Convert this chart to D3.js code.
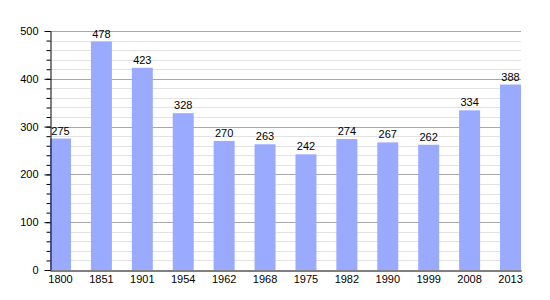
<!DOCTYPE html>
<html>
<head>
<meta charset="utf-8">
<script src="https://cdn.jsdelivr.net/npm/d3@7"></script>
<style>
body { margin: 0; background: #fff; }
text { font-family: "Liberation Sans", Arial, sans-serif; font-size: 11px; fill: #000; }
</style>
</head>
<body>
<script>
var years = ['1800','1851','1901','1954','1962','1968','1975','1982','1990','1999','2008','2013'];
var population = [275, 478, 423, 328, 270, 263, 242, 274, 267, 262, 334, 388];
var yTicks = [0, 100, 200, 300, 400, 500];

var svg = d3.select('body').append('svg')
  .attr('width', 550).attr('height', 300);

var mLeft = 50, mRight = 521, mTop = 31, mBottom = 270;

var x = d3.scaleBand().domain(years).range([mLeft, mRight])
  .paddingInner(0.487).paddingOuter(0);
var y = d3.scaleLinear().domain([0, 500]).range([mBottom, mTop]);

// minor grid
svg.append('g').selectAll('line')
  .data(d3.range(0, 501, 20).filter(function(v){ return v % 100 != 0; }))
  .enter().append('line')
  .attr('x1', mLeft).attr('x2', mRight)
  .attr('y1', function(d){ return Math.round(y(d)) + 0.5; })
  .attr('y2', function(d){ return Math.round(y(d)) + 0.5; })
  .attr('stroke', '#e2e2e2');

// major grid
svg.append('g').selectAll('line')
  .data(yTicks.slice(1))
  .enter().append('line')
  .attr('x1', mLeft).attr('x2', mRight)
  .attr('y1', function(d){ return Math.round(y(d)) + 0.5; })
  .attr('y2', function(d){ return Math.round(y(d)) + 0.5; })
  .attr('stroke', '#a8a8a8');

svg.append('g').selectAll('rect')
  .data(population)
  .enter().append('rect')
  .attr('x', function(d, i){ return x(years[i]); })
  .attr('width', x.bandwidth())
  .attr('y', function(d){ return y(d); })
  .attr('height', function(d){ return mBottom - y(d); })
  .attr('fill', '#99aaff');

svg.append('g').selectAll('text')
  .data(population)
  .enter().append('text')
  .attr('x', function(d, i){ return x(years[i]) + x.bandwidth() / 2; })
  .attr('y', function(d){ return y(d) - 4; })
  .attr('text-anchor', 'middle')
  .text(function(d){ return d; });

// y axis with minor ticks
svg.append('g')
  .attr('transform', 'translate(' + (mLeft + 0.5) + ',0)')
  .call(d3.axisLeft(y).tickValues(d3.range(0, 501, 20)).tickSize(4).tickFormat(''))
  .call(function(g){ g.select('.domain').remove(); });

svg.append('g')
  .attr('transform', 'translate(' + (mLeft + 0.5) + ',0)')
  .call(d3.axisLeft(y).tickValues(yTicks).tickSize(6).tickSizeOuter(0).tickPadding(6))
  .call(function(g){
    g.selectAll('text').style('font-family', '"Liberation Sans", Arial, sans-serif').style('font-size', '11px');
    g.select('.domain').attr('stroke', '#000');
  });

svg.append('g')
  .attr('transform', 'translate(0,' + (mBottom + 0.5) + ')')
  .call(d3.axisBottom(x).tickSize(0).tickSizeOuter(0).tickPadding(5))
  .call(function(g){
    g.selectAll('text').style('font-family', '"Liberation Sans", Arial, sans-serif').style('font-size', '11px');
    g.select('.domain').attr('stroke', '#000');
  });
</script>
</body>
</html>
